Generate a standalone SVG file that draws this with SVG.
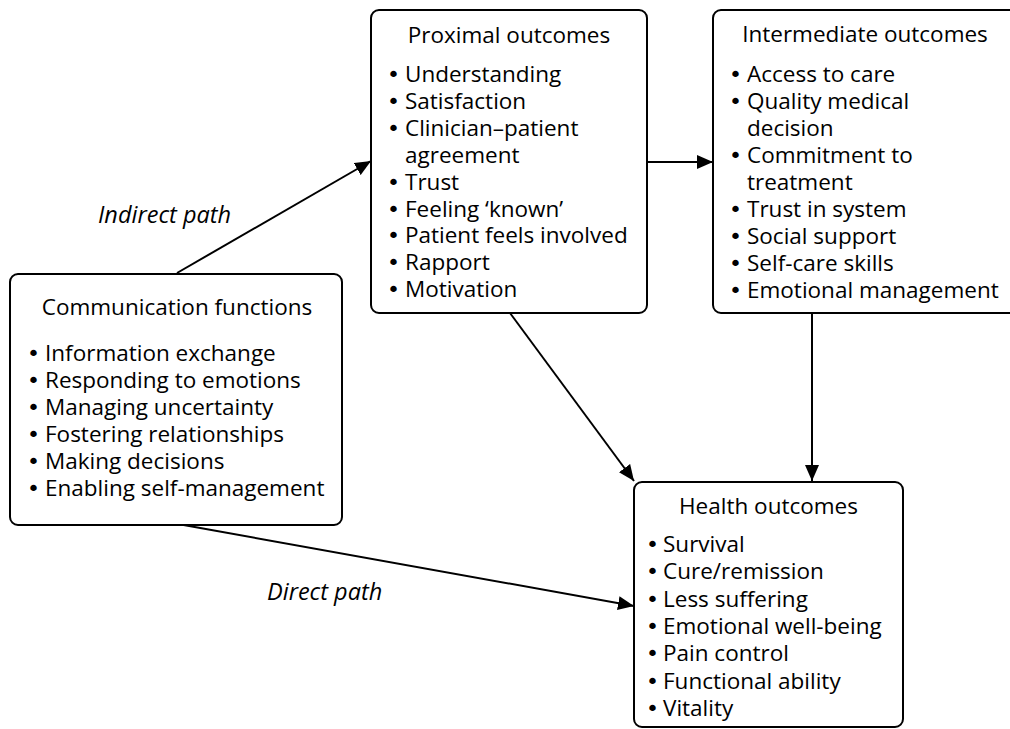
<svg xmlns="http://www.w3.org/2000/svg" width="1010" height="729" viewBox="0 0 1010 729">
<style>
.box{fill:#fff;stroke:#000;stroke-width:2}
text{font-family:"Open Sans","Liberation Sans",sans-serif;font-size:22.5px;fill:#000}
.b{font-family:"DejaVu Sans",sans-serif;font-size:22px}
.t{text-anchor:middle}
.lbl{font-style:italic;font-size:23.5px}
.c{stroke:#000;stroke-width:2;fill:none}
</style>
<defs>
<marker id="ah" markerUnits="userSpaceOnUse" markerWidth="16" markerHeight="14" refX="16" refY="7" orient="auto">
<path d="M0,0 L16,7 L0,14 Z" fill="#000"/>
</marker>
</defs>
<g id="connectors">
<line class="c" x1="177" y1="273" x2="371" y2="161" marker-end="url(#ah)"/>
<line class="c" x1="647" y1="162" x2="713" y2="162" marker-end="url(#ah)"/>
<line class="c" x1="510" y1="313" x2="634" y2="481" marker-end="url(#ah)"/>
<line class="c" x1="812" y1="313" x2="812" y2="481" marker-end="url(#ah)"/>
<line class="c" x1="178" y1="524" x2="634" y2="606" marker-end="url(#ah)"/>
<text class="lbl" x="98" y="223">Indirect path</text>
<text class="lbl" x="267" y="600">Direct path</text>
</g>
<g id="comm">
<rect class="box" x="10" y="274" width="332" height="251" rx="8"/>
<text class="t" x="177" y="315">Communication functions</text>
<text y="361"><tspan class="b" x="27">•</tspan><tspan x="45">Information exchange</tspan></text>
<text y="388"><tspan class="b" x="27">•</tspan><tspan x="45">Responding to emotions</tspan></text>
<text y="415"><tspan class="b" x="27">•</tspan><tspan x="45">Managing uncertainty</tspan></text>
<text y="442"><tspan class="b" x="27">•</tspan><tspan x="45">Fostering relationships</tspan></text>
<text y="469"><tspan class="b" x="27">•</tspan><tspan x="45">Making decisions</tspan></text>
<text y="496"><tspan class="b" x="27">•</tspan><tspan x="45">Enabling self-management</tspan></text>
</g>
<g id="proximal">
<rect class="box" x="371" y="10" width="276" height="303" rx="8"/>
<text class="t" x="509" y="43">Proximal outcomes</text>
<text y="82"><tspan class="b" x="387">•</tspan><tspan x="405">Understanding</tspan></text>
<text y="108.9"><tspan class="b" x="387">•</tspan><tspan x="405">Satisfaction</tspan></text>
<text y="135.8"><tspan class="b" x="387">•</tspan><tspan x="405">Clinician–patient</tspan></text>
<text y="162.7" x="405">agreement</text>
<text y="189.6"><tspan class="b" x="387">•</tspan><tspan x="405">Trust</tspan></text>
<text y="216.5"><tspan class="b" x="387">•</tspan><tspan x="405">Feeling ‘known’</tspan></text>
<text y="243.4"><tspan class="b" x="387">•</tspan><tspan x="405">Patient feels involved</tspan></text>
<text y="270.3"><tspan class="b" x="387">•</tspan><tspan x="405">Rapport</tspan></text>
<text y="297.2"><tspan class="b" x="387">•</tspan><tspan x="405">Motivation</tspan></text>
</g>
<g id="intermediate">
<rect class="box" x="713" y="10" width="305" height="303" rx="8"/>
<text class="t" x="865" y="42">Intermediate outcomes</text>
<text y="82"><tspan class="b" x="729">•</tspan><tspan x="747">Access to care</tspan></text>
<text y="109"><tspan class="b" x="729">•</tspan><tspan x="747">Quality medical</tspan></text>
<text y="136" x="747">decision</text>
<text y="163"><tspan class="b" x="729">•</tspan><tspan x="747">Commitment to</tspan></text>
<text y="190" x="747">treatment</text>
<text y="217"><tspan class="b" x="729">•</tspan><tspan x="747">Trust in system</tspan></text>
<text y="244"><tspan class="b" x="729">•</tspan><tspan x="747">Social support</tspan></text>
<text y="271"><tspan class="b" x="729">•</tspan><tspan x="747">Self-care skills</tspan></text>
<text y="298"><tspan class="b" x="729">•</tspan><tspan x="747">Emotional management</tspan></text>
</g>
<g id="health">
<rect class="box" x="634" y="482" width="269" height="245" rx="8"/>
<text class="t" x="768.5" y="514">Health outcomes</text>
<text y="552"><tspan class="b" x="646">•</tspan><tspan x="663">Survival</tspan></text>
<text y="579.3"><tspan class="b" x="646">•</tspan><tspan x="663">Cure/remission</tspan></text>
<text y="606.6"><tspan class="b" x="646">•</tspan><tspan x="663">Less suffering</tspan></text>
<text y="633.9"><tspan class="b" x="646">•</tspan><tspan x="663">Emotional well-being</tspan></text>
<text y="661.2"><tspan class="b" x="646">•</tspan><tspan x="663">Pain control</tspan></text>
<text y="688.5"><tspan class="b" x="646">•</tspan><tspan x="663">Functional ability</tspan></text>
<text y="715.8"><tspan class="b" x="646">•</tspan><tspan x="663">Vitality</tspan></text>
</g>
</svg>
